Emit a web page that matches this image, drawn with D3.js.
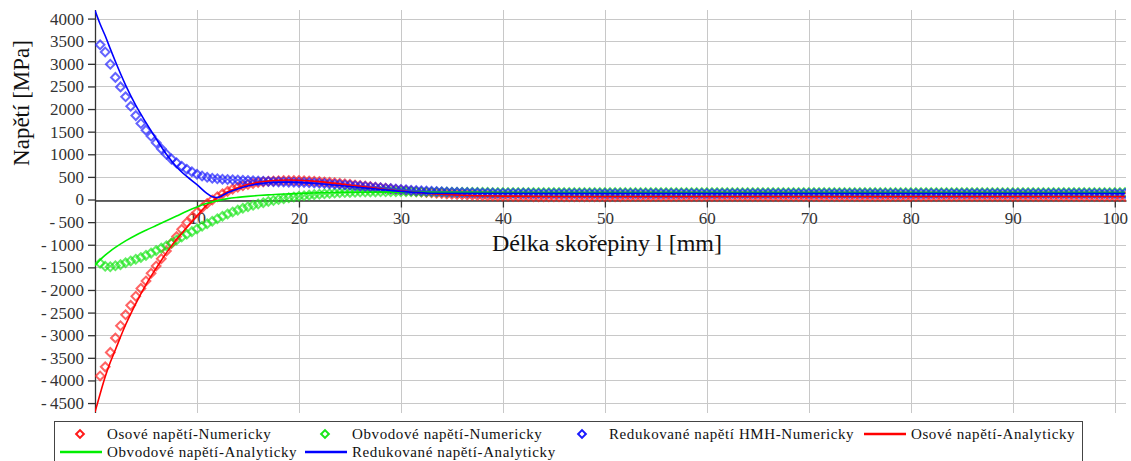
<!DOCTYPE html>
<html>
<head>
<meta charset="utf-8">
<script src="https://cdn.jsdelivr.net/npm/d3@7"></script>
<style>
  body { margin: 0; background: #fff; }
  svg { display: block; }
  svg text { font-family: "Liberation Serif", "Times New Roman", serif !important; }
</style>
</head>
<body>
<div id="chart"></div>
<script>
// tick values
const yTicks = [-4500, -4000, -3500, -3000, -2500, -2000, -1500, -1000, -500, 0,
  500, 1000, 1500, 2000, 2500, 3000, 3500, 4000];
const xTicks = [10, 20, 30, 40, 50, 60, 70, 80, 90, 100];

// numeric results, one value every 0.5 mm from 0.5 mm to 101 mm
const numStep = 0.5;
const axialNum = [
  -3900, -3700, -3380, -3060, -2790, -2550, -2340, -2140, -1965, -1800, -1630, -1470, -1310, -1140, -970, -820, -660, -510, -390, -280,
  -180, -90, -10, 60, 125, 180, 230, 272, 305, 333, 356, 375, 390, 402, 411, 417, 420, 421, 420, 418,
  414, 409, 403, 396, 388, 379, 369, 358, 347, 335, 323, 311, 298, 285, 272, 259, 247, 235, 223, 211,
  200, 189, 178, 168, 158, 149, 140, 132, 124, 117, 110, 104, 98, 93, 88, 84, 80, 77, 74, 72,
  70, 68, 67, 66, 65, 64, 63, 63, 62, 62, 62, 62, 62, 62, 63, 63, 63, 63, 64, 64,
  64, 64, 64, 65, 65, 65, 65, 65, 65, 65, 65, 65, 65, 65, 65, 65, 65, 65, 65, 65,
  65, 65, 65, 65, 65, 65, 65, 65, 65, 65, 65, 65, 65, 65, 65, 65, 65, 65, 65, 65,
  65, 65, 65, 65, 65, 65, 65, 65, 65, 65, 65, 65, 65, 65, 65, 65, 65, 65, 65, 65,
  65, 65, 65, 65, 65, 65, 65, 65, 65, 65, 65, 65, 65, 65, 65, 65, 65, 65, 65, 65,
  65, 65, 65, 65, 65, 65, 65, 65, 65, 65, 65, 65, 65, 65, 65, 65, 65, 65, 65, 65,
  65, 65
];
const hoopNum = [
  -1410, -1475, -1485, -1465, -1440, -1400, -1360, -1320, -1280, -1235, -1185, -1130, -1075, -1020, -960, -895, -830, -770, -710, -650,
  -590, -535, -480, -425, -370, -320, -275, -235, -195, -160, -128, -98, -70, -45, -22, 0, 20, 38, 55, 70,
  84, 97, 108, 118, 127, 135, 142, 148, 153, 157, 161, 164, 166, 168, 169, 170, 171, 171, 171, 171,
  170, 170, 169, 168, 167, 166, 165, 164, 163, 162, 161, 160, 160, 159, 159, 158, 158, 157, 157, 157,
  156, 156, 156, 156, 156, 155, 155, 155, 155, 155, 155, 155, 155, 155, 155, 155, 155, 155, 155, 155,
  155, 155, 155, 155, 155, 155, 155, 155, 155, 155, 155, 155, 155, 155, 155, 155, 155, 155, 155, 155,
  155, 155, 155, 155, 155, 155, 155, 155, 155, 155, 155, 155, 155, 155, 155, 155, 155, 155, 155, 155,
  155, 155, 155, 155, 155, 155, 155, 155, 155, 155, 155, 155, 155, 155, 155, 155, 155, 155, 155, 155,
  155, 155, 155, 155, 155, 155, 155, 155, 155, 155, 155, 155, 155, 155, 155, 155, 155, 155, 155, 155,
  155, 155, 155, 155, 155, 155, 155, 155, 155, 155, 155, 155, 155, 155, 155, 155, 155, 155, 155, 155,
  155, 155
];
const vmNum = [
  3420, 3260, 2990, 2700, 2490, 2270, 2060, 1855, 1680, 1534, 1400, 1255, 1120, 1000, 893, 810, 735, 670, 615, 560,
  520, 490, 470, 458, 450, 443, 436, 430, 424, 418, 413, 408, 403, 398, 394, 390, 387, 384, 381, 378,
  374, 369, 364, 358, 352, 345, 338, 330, 322, 314, 305, 296, 287, 278, 268, 259, 250, 241, 232, 223,
  215, 207, 200, 193, 187, 181, 176, 171, 166, 162, 158, 155, 152, 149, 147, 145, 143, 141, 140, 139,
  138, 137, 137, 136, 136, 135, 135, 135, 135, 135, 135, 135, 135, 135, 135, 135, 135, 135, 135, 135,
  135, 135, 135, 135, 135, 135, 135, 135, 135, 135, 135, 135, 135, 135, 135, 135, 135, 135, 135, 135,
  135, 135, 135, 135, 135, 135, 135, 135, 135, 135, 135, 135, 135, 135, 135, 135, 135, 135, 135, 135,
  135, 135, 135, 135, 135, 135, 135, 135, 135, 135, 135, 135, 135, 135, 135, 135, 135, 135, 135, 135,
  135, 135, 135, 135, 135, 135, 135, 135, 135, 135, 135, 135, 135, 135, 135, 135, 135, 135, 135, 135,
  135, 135, 135, 135, 135, 135, 135, 135, 135, 135, 135, 135, 135, 135, 135, 135, 135, 135, 135, 135,
  135, 135
];

// analytic solution
const anX = [0, 0.5, 1, 1.5, 2, 3, 4, 5, 6, 7, 8, 9, 10, 11, 11.5, 12, 13, 14, 15, 16,
  17, 18, 19, 20, 22, 24, 26, 28, 30, 33, 36, 40, 45, 50, 60, 70, 80, 90, 101];
const axialAn = [-4700, -4300, -3920, -3600, -3320, -2770, -2300, -1880, -1520, -1180,
  -880, -620, -360, -120, -35, 40, 170, 260, 330, 380,
  410, 425, 430, 425, 395, 345, 290, 235, 185, 130, 95, 75, 65, 65, 65, 65, 65, 65, 65];
const hoopAn = [-1456, -1335, -1230, -1140, -1060, -915, -790, -680, -575, -470,
  -365, -260, -165, -85, -52, -24, 20, 48, 70, 88,
  102, 115, 125, 133, 148, 157, 162, 163, 162, 160, 158, 156, 155, 155, 155, 155, 155, 155, 155];
const vmAn = [4180, 3880, 3620, 3330, 3050, 2530, 2080, 1700, 1340, 1000,
  720, 510, 330, 130, 60, 45, 150, 235, 300, 345,
  370, 380, 385, 380, 350, 310, 265, 220, 180, 140, 135, 135, 135, 135, 135, 135, 135, 135, 135];

const numSeries = [
  { name: "Osové napětí-Numericky", values: axialNum, color: "#ff1a1a" },
  { name: "Obvodové napětí-Numericky", values: hoopNum, color: "#19e619" },
  { name: "Redukované napětí HMH-Numericky", values: vmNum, color: "#1a1aff" },
];
const anSeries = [
  { name: "Osové napětí-Analyticky", values: axialAn, color: "#ff0000" },
  { name: "Obvodové napětí-Analyticky", values: hoopAn, color: "#00ee00" },
  { name: "Redukované napětí-Analyticky", values: vmAn, color: "#0000ff" },
];

const width = 1131, height = 461;
const plot = { left: 95, right: 1126, top: 10, bottom: 413 };

const svg = d3.select("#chart").append("svg")
  .attr("width", width).attr("height", height);

const x = d3.scaleLinear().domain([0, 101.1]).range([plot.left, plot.right]);
const y = d3.scaleLinear().domain([-4720, 4190]).range([plot.bottom, plot.top]);

svg.append("defs").append("clipPath").attr("id", "plot-clip")
  .append("rect")
  .attr("x", plot.left).attr("y", plot.top)
  .attr("width", plot.right - plot.left).attr("height", plot.bottom - plot.top);

// grid
const grid = svg.append("g").attr("stroke", "#c8c8c8").attr("stroke-width", 1);
grid.selectAll("line.h").data(yTicks).join("line").attr("class", "h")
  .attr("x1", plot.left).attr("x2", plot.right)
  .attr("y1", (d) => Math.round(y(d)) + 0.5).attr("y2", (d) => Math.round(y(d)) + 0.5);
grid.selectAll("line.v").data(xTicks).join("line").attr("class", "v")
  .attr("y1", plot.top).attr("y2", plot.bottom)
  .attr("x1", (d) => Math.round(x(d)) + 0.5).attr("x2", (d) => Math.round(x(d)) + 0.5);

// axes
const fmtY = (d) => (d < 0 ? "-\u2009" + Math.abs(d) : String(d));
const yAxis = svg.append("g")
  .attr("transform", `translate(${plot.left},0)`)
  .call(d3.axisLeft(y).tickValues(yTicks).tickFormat(fmtY).tickSize(7).tickSizeOuter(0).tickPadding(4));
const xAxis = svg.append("g")
  .attr("transform", `translate(0,${Math.round(y(0)) + 0.5})`)
  .call(d3.axisBottom(x).tickValues(xTicks).tickSize(7).tickSizeOuter(0).tickPadding(4));
[yAxis, xAxis].forEach((g) => {
  g.attr("font-family", null).attr("font-size", 17);
  g.select(".domain").attr("stroke", "#333").attr("stroke-width", 1.3);
  g.selectAll(".tick line").attr("stroke", "#333").attr("stroke-width", 1.3);
  g.selectAll(".tick text").attr("fill", "#333");
});
yAxis.select(".domain").attr("d", `M0.5,${plot.top}V${plot.bottom}`);

// axis titles
svg.append("text")
  .attr("transform", "translate(29,103) rotate(-90)")
  .attr("text-anchor", "middle").attr("font-size", 23).attr("fill", "#111")
  .text("Napětí [MPa]");
svg.append("text")
  .attr("x", 607).attr("y", 251)
  .attr("text-anchor", "middle").attr("font-size", 24).attr("fill", "#111")
  .text("Délka skořepiny l [mm]");

// series
const body = svg.append("g").attr("clip-path", "url(#plot-clip)");
const diamond = d3.symbol(d3.symbolSquare, 38);

numSeries.forEach((s) => {
  body.append("g")
    .attr("fill", "none").attr("stroke", s.color)
    .attr("stroke-width", 2).attr("stroke-opacity", 0.68)
    .selectAll("path").data(s.values).join("path")
    .attr("d", diamond)
    .attr("transform", (d, i) => `translate(${x((i + 1) * numStep)},${y(d)}) rotate(45)`);
});

anSeries.forEach((s) => {
  const line = d3.line().x((d, i) => x(anX[i])).y((d) => y(d)).curve(d3.curveMonotoneX);
  body.append("path")
    .attr("d", line(s.values))
    .attr("fill", "none").attr("stroke", s.color).attr("stroke-width", 1.6);
});

// legend
const legendCols = [57, 302, 559, 861];
const legendRows = [434, 452];
const legendItems = [
  { s: numSeries[0], kind: "marker", col: 0, row: 0 },
  { s: numSeries[1], kind: "marker", col: 1, row: 0 },
  { s: numSeries[2], kind: "marker", col: 2, row: 0 },
  { s: anSeries[0], kind: "line", col: 3, row: 0 },
  { s: anSeries[1], kind: "line", col: 0, row: 1 },
  { s: anSeries[2], kind: "line", col: 1, row: 1 },
];

const legend = svg.append("g");
legend.append("rect")
  .attr("x", 54.5).attr("y", 421.5).attr("width", 1028).attr("height", 60)
  .attr("fill", "#fff").attr("stroke", "#444");

const item = legend.selectAll("g.item").data(legendItems).join("g")
  .attr("class", "item")
  .attr("transform", (d) => `translate(${legendCols[d.col]},${legendRows[d.row]})`);

item.filter((d) => d.kind === "marker").append("path")
  .attr("d", d3.symbol(d3.symbolSquare, 30))
  .attr("transform", "translate(23,0) rotate(45)")
  .attr("fill", "none").attr("stroke", (d) => d.s.color).attr("stroke-width", 2);

item.filter((d) => d.kind === "line").append("line")
  .attr("x1", 3).attr("x2", 45).attr("y1", 0).attr("y2", 0)
  .attr("stroke", (d) => d.s.color).attr("stroke-width", 2.5);

item.append("text")
  .attr("x", 50).attr("y", 5)
  .attr("font-size", 15).attr("letter-spacing", 0.6).attr("fill", "#111")
  .text((d) => d.s.name);
</script>
</body>
</html>
